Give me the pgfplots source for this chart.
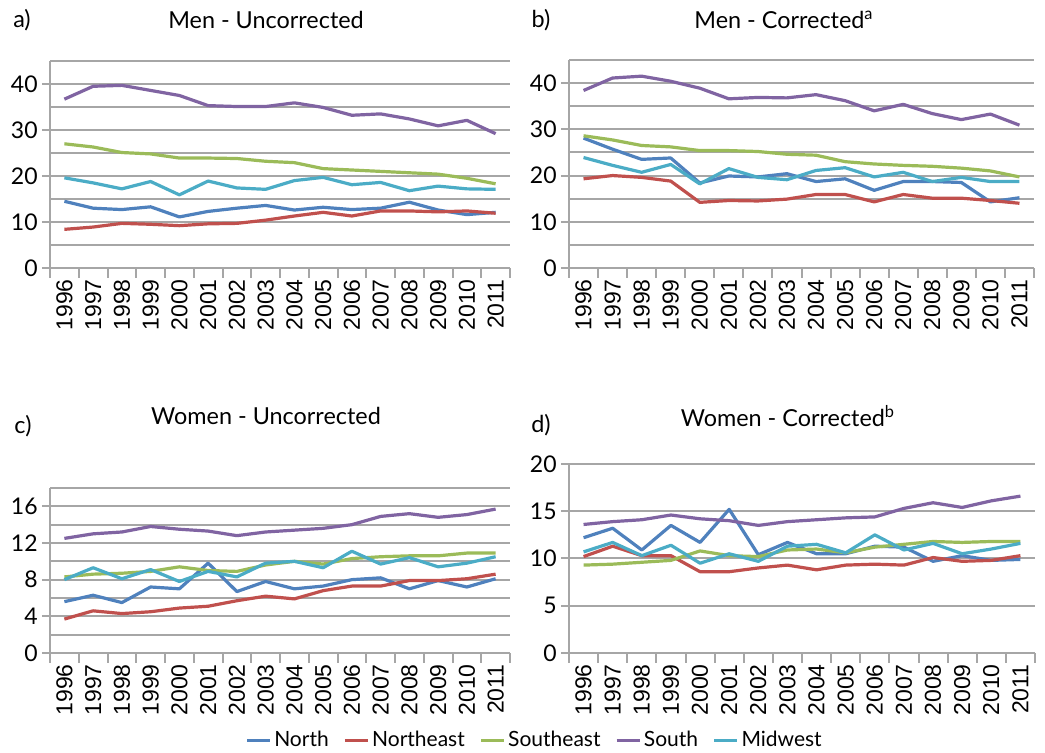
\documentclass[border=0pt]{standalone}
\usepackage{pgfplots}
\usepackage{pgfplotstable}
\pgfplotsset{compat=1.18}
\usepackage{fontspec}
\setmainfont{Lato}
\newfontfamily\arialfont{Liberation Sans}
\definecolor{cN}{HTML}{4F81BD}
\definecolor{cNE}{HTML}{C0504D}
\definecolor{cSE}{HTML}{9BBB59}
\definecolor{cS}{HTML}{8064A2}
\definecolor{cMW}{HTML}{4BACC6}
\definecolor{gridc}{HTML}{A6A6A6}

\pgfplotstableread{
x N NE SE S MW
0 14.5 8.4 27.0 36.7 19.6
1 13.0 8.9 26.3 39.5 18.5
2 12.7 9.7 25.1 39.7 17.2
3 13.3 9.5 24.8 38.6 18.8
4 11.1 9.2 23.9 37.5 15.9
5 12.3 9.6 23.9 35.3 18.9
6 13.0 9.7 23.8 35.1 17.4
7 13.6 10.4 23.2 35.1 17.1
8 12.6 11.3 22.9 35.9 19.0
9 13.2 12.1 21.6 34.9 19.7
10 12.7 11.3 21.3 33.2 18.1
11 13.0 12.4 21.0 33.5 18.6
12 14.3 12.4 20.7 32.4 16.8
13 12.6 12.2 20.4 30.9 17.8
14 11.6 12.4 19.5 32.1 17.2
15 12.1 11.9 18.3 29.2 17.1
}\tabA

\pgfplotstableread{
x N NE SE S MW
0 28.1 19.3 28.6 38.4 23.9
1 25.7 20.0 27.7 41.1 22.2
2 23.5 19.6 26.5 41.5 20.7
3 23.8 18.8 26.2 40.4 22.4
4 18.4 14.2 25.4 38.9 18.2
5 19.9 14.6 25.4 36.6 21.5
6 19.7 14.5 25.2 36.9 19.6
7 20.4 14.9 24.6 36.8 19.1
8 18.7 15.9 24.4 37.5 21.1
9 19.3 15.9 23.0 36.2 21.7
10 16.8 14.3 22.5 34.0 19.7
11 18.7 15.9 22.2 35.4 20.7
12 18.7 15.1 22.0 33.4 18.7
13 18.5 15.1 21.6 32.1 19.6
14 14.3 14.6 21.0 33.3 18.7
15 15.2 14.0 19.7 30.9 18.7
}\tabB

\pgfplotstableread{
x N NE SE S MW
0 5.6 3.7 8.3 12.5 8.0
1 6.3 4.6 8.6 13.0 9.3
2 5.5 4.3 8.7 13.2 8.1
3 7.2 4.5 8.9 13.8 9.1
4 7.0 4.9 9.4 13.5 7.8
5 9.8 5.1 9.0 13.3 8.9
6 6.7 5.7 8.9 12.8 8.3
7 7.8 6.2 9.6 13.2 9.8
8 7.0 5.9 10.0 13.4 10.0
9 7.3 6.8 9.7 13.6 9.3
10 8.0 7.3 10.3 14.0 11.1
11 8.2 7.3 10.5 14.9 9.7
12 7.0 7.9 10.6 15.2 10.4
13 7.9 7.9 10.6 14.8 9.4
14 7.2 8.1 10.9 15.1 9.8
15 8.1 8.6 10.9 15.7 10.5
}\tabC

\pgfplotstableread{
x N NE SE S MW
0 12.2 10.2 9.3 13.6 10.7
1 13.2 11.3 9.4 13.9 11.7
2 10.9 10.3 9.6 14.1 10.3
3 13.5 10.3 9.8 14.6 11.4
4 11.7 8.6 10.8 14.2 9.5
5 15.2 8.6 10.3 14.0 10.5
6 10.4 9.0 10.2 13.5 9.7
7 11.7 9.3 10.9 13.9 11.3
8 10.5 8.8 11.0 14.1 11.5
9 10.5 9.3 10.6 14.3 10.6
10 11.3 9.4 11.2 14.4 12.5
11 11.2 9.3 11.5 15.3 10.9
12 9.7 10.1 11.8 15.9 11.6
13 10.3 9.7 11.7 15.4 10.5
14 9.8 9.8 11.8 16.1 11.0
15 9.9 10.3 11.8 16.6 11.6
}\tabD

\pgfplotsset{
  panel/.style={
    scale only axis,
    axis x line*=bottom, axis y line*=left,
    axis line style={gridc, line width=1pt},
    xmin=-0.5, xmax=15.5, ymin=0,
    xtick={0,...,15},
    xticklabels={1996,1997,1998,1999,2000,2001,2002,2003,2004,2005,2006,2007,2008,2009,2010,2011},
    minor xtick={-0.5,0.5,...,15.5},
    major x tick style={draw=none},
    minor x tick style={gridc, line width=1pt},
    minor tick length=5pt,
    tick align=outside,
    xticklabel style={rotate=90, anchor=east, font=\arialfont\fontsize{11.5}{13}\selectfont, inner sep=1.5pt},
    yticklabel style={font=\fontsize{11.5}{13}\selectfont, inner sep=2pt},
    /pgf/number format/assume math mode=true,
    major y tick style={gridc, line width=1pt},
    major tick length=4pt,
    minor y tick style={draw=none},
    ymajorgrids, yminorgrids,
    major grid style={gridc, line width=1pt},
    minor grid style={gridc, line width=1pt},
    every axis plot/.append style={line width=1.6pt, mark=none, line join=round},
    clip=false,
  },
}

\begin{document}
\begin{tikzpicture}
\useasboundingbox (0,0) rectangle (522.5pt,376.5pt);

% a)
\begin{axis}[panel, at={(25pt,242.5pt)}, anchor=south west, width=230pt, height=103.5pt,
  ymax=45, ytick={0,10,...,40}, minor ytick={5,15,...,45}]
\addplot[cN] table[x=x,y=N]{\tabA};
\addplot[cNE] table[x=x,y=NE]{\tabA};
\addplot[cSE] table[x=x,y=SE]{\tabA};
\addplot[cS] table[x=x,y=S]{\tabA};
\addplot[cMW] table[x=x,y=MW]{\tabA};
\end{axis}

% b)
\begin{axis}[panel, at={(284.5pt,242.5pt)}, anchor=south west, width=232.5pt, height=104pt,
  ymax=45, ytick={0,10,...,40}, minor ytick={5,15,...,45}]
\addplot[cN] table[x=x,y=N]{\tabB};
\addplot[cNE] table[x=x,y=NE]{\tabB};
\addplot[cSE] table[x=x,y=SE]{\tabB};
\addplot[cS] table[x=x,y=S]{\tabB};
\addplot[cMW] table[x=x,y=MW]{\tabB};
\end{axis}

% c)
\begin{axis}[panel, at={(25pt,50pt)}, anchor=south west, width=230pt, height=82.5pt,
  ymax=18, ytick={0,4,...,16}, minor ytick={2,6,...,18},
  legend columns=5,
  legend style={at={(1.055,-0.53)}, anchor=center, draw=none, fill=none,
    font=\fontsize{10.5}{12}\selectfont, column sep=0pt,
    /tikz/every even column/.append style={column sep=6pt},
    nodes={inner sep=1.5pt}},
  legend image code/.code={\draw[#1, line width=1.2pt] (0pt,0pt) -- (11.5pt,0pt);}]
\addplot[cN] table[x=x,y=N]{\tabC};
\addplot[cNE] table[x=x,y=NE]{\tabC};
\addplot[cSE] table[x=x,y=SE]{\tabC};
\addplot[cS] table[x=x,y=S]{\tabC};
\addplot[cMW] table[x=x,y=MW]{\tabC};
\legend{North,Northeast,Southeast,South,Midwest}
\end{axis}

% d)
\begin{axis}[panel, at={(284.5pt,50pt)}, anchor=south west, width=233pt, height=94.5pt,
  ymax=20, ytick={0,5,...,20}, minor ytick={}]
\addplot[cN] table[x=x,y=N]{\tabD};
\addplot[cNE] table[x=x,y=NE]{\tabD};
\addplot[cSE] table[x=x,y=SE]{\tabD};
\addplot[cS] table[x=x,y=S]{\tabD};
\addplot[cMW] table[x=x,y=MW]{\tabD};
\end{axis}

\begin{scope}[every node/.style={font=\fontsize{11.7}{14}\selectfont, inner sep=0pt}]
\node at (133pt,366.5pt) {Men - Uncorrected};
\node at (392pt,366.5pt) {Men - Corrected\textsuperscript{a}};
\node at (133pt,168.5pt) {Women - Uncorrected};
\node at (394pt,168.5pt) {Women - Corrected\textsuperscript{b}};
\node at (11pt,366.5pt) {a)};
\node at (270.5pt,366.5pt) {b)};
\node at (11.5pt,163.5pt) {c)};
\node at (270.5pt,164pt) {d)};
\end{scope}
\end{tikzpicture}
\end{document}
